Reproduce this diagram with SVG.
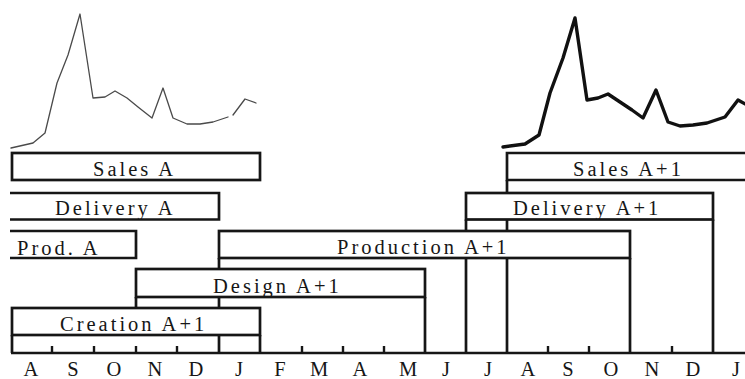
<svg xmlns="http://www.w3.org/2000/svg" width="745" height="379" viewBox="0 0 745 379">
  <style>
    .box { fill: #ffffff; stroke: #161616; stroke-width: 2.7; stroke-linejoin: miter; }
    .drop { stroke: #161616; stroke-width: 2.7; fill: none; }
    .tick { stroke: #161616; stroke-width: 2.4; }
    .lbl { font-family: "Liberation Serif", "Times New Roman", serif; font-size: 20.5px; letter-spacing: 3px; fill: #161616; }
    .month { font-family: "Liberation Serif", "Times New Roman", serif; font-size: 20.5px; fill: #161616; text-anchor: middle; }
    .curve-thin { fill: none; stroke: #4a4a4a; stroke-width: 1.3; stroke-linejoin: round; stroke-linecap: round; }
    .curve-bold { fill: none; stroke: #111111; stroke-width: 3.4; stroke-linejoin: round; stroke-linecap: round; }
  </style>

  <rect width="745" height="379" fill="#ffffff"/>

  <!-- sales curves for year A and year A+1 -->
  <g id="sales-curve-a">
    <polyline class="curve-thin" points="11,148 33,143 45,133 57,83 68,55 80,14 93,98 105,97 115,91 127,98 138,107 152,118 163,88 173,118 187,124 200,124 213,122 228,117"/>
    <polyline class="curve-thin" points="233,115 245,99 256,103"/>
  </g>
  <g id="sales-curve-a1">
    <polyline class="curve-bold" points="503,147 525,144 539,135 550,93 563,58 575,18 587,100 598,98 608,94 620,102 632,110 643,118 656,90 668,122 680,126 693,125 707,123 725,117 738,100 747,105"/>
  </g>

  <!-- vertical drop lines from bar edges down to the time axis -->
  <g id="connectors">
    <line class="drop" x1="219" y1="258" x2="219" y2="353"/>
    <line class="drop" x1="136" y1="297" x2="136" y2="308"/>
    <line class="drop" x1="425" y1="297" x2="425" y2="353"/>
    <line class="drop" x1="466" y1="219.5" x2="466" y2="353"/>
    <line class="drop" x1="507" y1="180" x2="507" y2="353"/>
    <line class="drop" x1="630" y1="258" x2="630" y2="353"/>
    <line class="drop" x1="713" y1="219.5" x2="713" y2="353"/>
  </g>

  <g id="sales-a">
    <rect class="box" x="12" y="153" width="248" height="27"/>
    <text class="lbl" x="93" y="176">Sales A</text>
  </g>

  <g id="delivery-a">
    <path class="box" d="M10,193 H219 V219.5 H10"/>
    <text class="lbl" x="55" y="215">Delivery A</text>
  </g>

  <g id="prod-a">
    <path class="box" d="M10,231 H136 V258 H10"/>
    <text class="lbl" x="17" y="254.5">Prod. A</text>
  </g>

  <g id="production-a1">
    <rect class="box" x="219" y="231" width="411" height="27"/>
    <text class="lbl" x="337" y="254">Production A+1</text>
  </g>

  <g id="design-a1">
    <rect class="box" x="136" y="269" width="289" height="28"/>
    <text class="lbl" x="213" y="293">Design A+1</text>
  </g>

  <g id="creation-a1">
    <rect class="box" x="12" y="308" width="248" height="27"/>
    <line class="drop" x1="12" y1="335" x2="12" y2="353"/>
    <line class="drop" x1="260" y1="335" x2="260" y2="353"/>
    <text class="lbl" x="60" y="331">Creation A+1</text>
  </g>

  <g id="sales-a1">
    <path class="box" d="M747,153 H507 V180 H747"/>
    <text class="lbl" x="573" y="175.5">Sales A+1</text>
  </g>

  <g id="delivery-a1">
    <rect class="box" x="466" y="193" width="247" height="26.5"/>
    <text class="lbl" x="513" y="215">Delivery A+1</text>
  </g>

  <!-- time axis with month ticks -->
  <g id="time-axis">
    <line class="drop" x1="11" y1="353" x2="745" y2="353"/>
    <line class="tick" x1="52" y1="346" x2="52" y2="353"/>
    <line class="tick" x1="94" y1="346" x2="94" y2="353"/>
    <line class="tick" x1="136" y1="346" x2="136" y2="353"/>
    <line class="tick" x1="177" y1="346" x2="177" y2="353"/>
    <line class="tick" x1="302" y1="346" x2="302" y2="353"/>
    <line class="tick" x1="343" y1="346" x2="343" y2="353"/>
    <line class="tick" x1="384" y1="346" x2="384" y2="353"/>
    <line class="tick" x1="548" y1="346" x2="548" y2="353"/>
    <line class="tick" x1="589" y1="346" x2="589" y2="353"/>
    <line class="tick" x1="672" y1="346" x2="672" y2="353"/>
    <text class="month" x="31" y="376">A</text>
    <text class="month" x="73" y="376">S</text>
    <text class="month" x="114" y="376">O</text>
    <text class="month" x="155" y="376">N</text>
    <text class="month" x="196" y="376">D</text>
    <text class="month" x="239" y="376">J</text>
    <text class="month" x="280" y="376">F</text>
    <text class="month" x="319" y="376">M</text>
    <text class="month" x="360" y="376">A</text>
    <text class="month" x="408" y="376">M</text>
    <text class="month" x="446" y="376">J</text>
    <text class="month" x="488" y="376">J</text>
    <text class="month" x="528" y="376">A</text>
    <text class="month" x="568" y="376">S</text>
    <text class="month" x="611" y="376">O</text>
    <text class="month" x="652" y="376">N</text>
    <text class="month" x="693" y="376">D</text>
    <text class="month" x="736" y="376">J</text>
  </g>
</svg>
